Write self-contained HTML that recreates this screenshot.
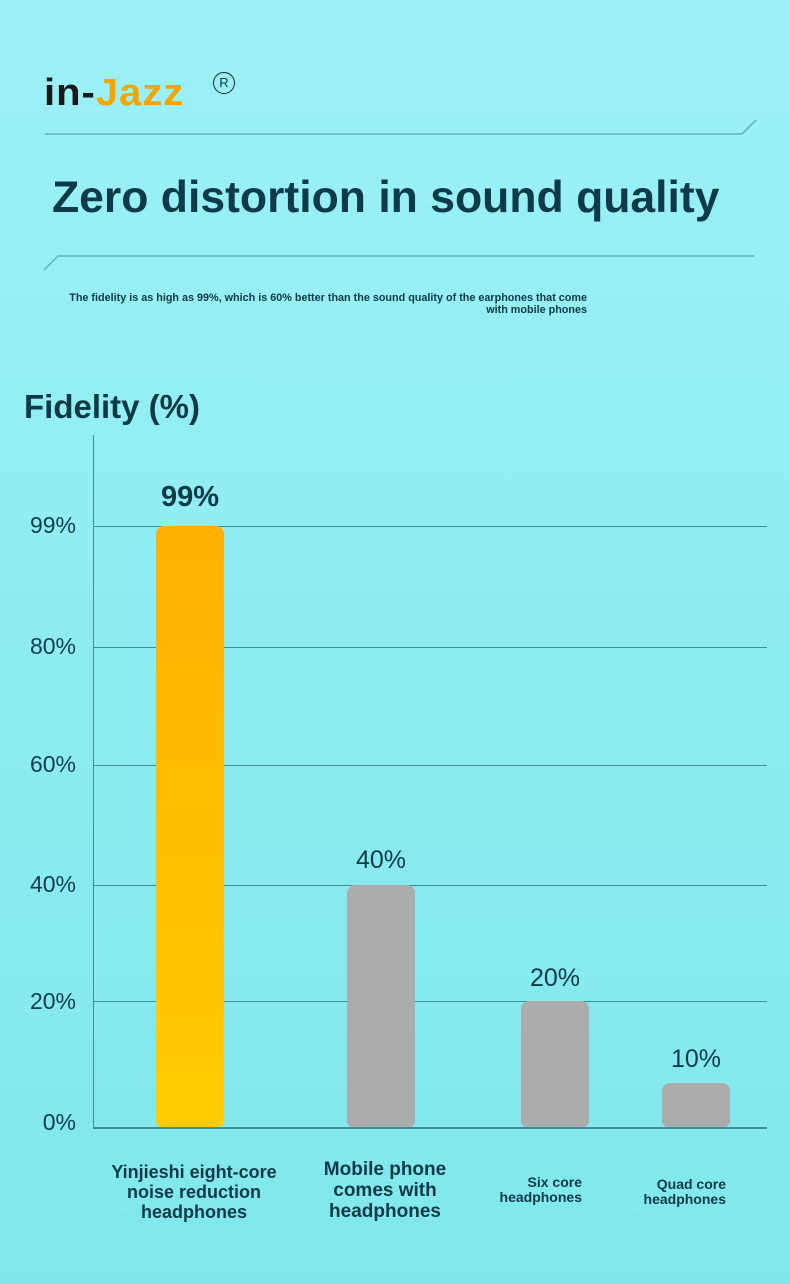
<!DOCTYPE html>
<html><head><meta charset="utf-8"><style>
body{margin:0;width:790px;height:1284px;overflow:hidden;background:linear-gradient(#9cf1f5,#7fe7eb);font-family:"Liberation Sans","DejaVu Sans",sans-serif;color:#0e3a46;position:relative}
.a{position:absolute}
.g{position:absolute;left:93px;width:674px;height:1px;background:#3f8f98}
.t{position:absolute;left:0;width:76px;text-align:right;font-size:23px;color:#123e4a}
.bar{position:absolute;width:68px;border-radius:8px 8px 6px 6px;background:#acacac}
.v{position:absolute;font-size:25px;text-align:center;width:100px}
.l{position:absolute;font-weight:bold;text-align:center;line-height:1.1}
</style></head><body>
<div class="a" style="left:44px;top:72px;font-size:38px;font-weight:900;letter-spacing:1px;color:#1a1a1a;transform:scaleX(1.05);transform-origin:left">in-<span style="color:#f5a500">Jazz</span></div>
<div class="a" style="left:213px;top:72px;width:20px;height:20px;border:1.5px solid #222;border-radius:50%;font-size:13px;text-align:center;line-height:20px">R</div>
<svg class="a" style="left:0;top:0" width="790" height="280"><polyline points="45,134 742,134 756,120" fill="none" stroke="#5fb3ba" stroke-width="1.5"/><polyline points="44,270 58,256 754,256" fill="none" stroke="#5fb3ba" stroke-width="1.5"/></svg>
<div class="a" style="left:52px;top:173px;font-size:44.5px;font-weight:bold;color:#0f3b48">Zero distortion in sound quality</div>
<div class="a" style="left:40px;top:292px;width:547px;font-size:10.8px;font-weight:bold;text-align:right;line-height:12px">The fidelity is as high as 99%, which is 60% better than the sound quality of the earphones that come<br>with mobile phones</div>
<div class="a" style="left:24px;top:388px;font-size:33px;font-weight:bold">Fidelity (%)</div>
<div class="a" style="left:93px;top:435px;width:1px;height:692px;background:#3f8f98"></div>
<div class="g" style="top:526px"></div><div class="g" style="top:647px"></div><div class="g" style="top:765px"></div><div class="g" style="top:885px"></div><div class="g" style="top:1001px"></div><div class="g" style="top:1127px;height:2px"></div>
<div class="t" style="top:512px">99%</div><div class="t" style="top:633px">80%</div><div class="t" style="top:751px">60%</div><div class="t" style="top:871px">40%</div><div class="t" style="top:988px">20%</div><div class="t" style="top:1109px">0%</div>
<div class="bar" style="left:156px;top:526px;height:601px;background:linear-gradient(#ffb000,#ffcc00)"></div>
<div class="bar" style="left:347px;top:885px;height:242px"></div>
<div class="bar" style="left:521px;top:1001px;height:126px"></div>
<div class="bar" style="left:662px;top:1083px;height:44px"></div>
<div class="v" style="left:140px;top:481px;font-size:29px;font-weight:bold">99%</div>
<div class="v" style="left:331px;top:846px">40%</div>
<div class="v" style="left:505px;top:964px">20%</div>
<div class="v" style="left:646px;top:1045px">10%</div>
<div class="l" style="left:94px;top:1163px;width:200px;font-size:18px">Yinjieshi eight-core<br>noise reduction<br>headphones</div>
<div class="l" style="left:300px;top:1160px;width:170px;font-size:19px">Mobile phone<br>comes with<br>headphones</div>
<div class="l" style="left:476px;top:1175px;width:106px;font-size:14px;text-align:right">Six core<br>headphones</div>
<div class="l" style="left:620px;top:1177px;font-size:14px;text-align:right;width:106px">Quad core<br>headphones</div>
</body></html>
